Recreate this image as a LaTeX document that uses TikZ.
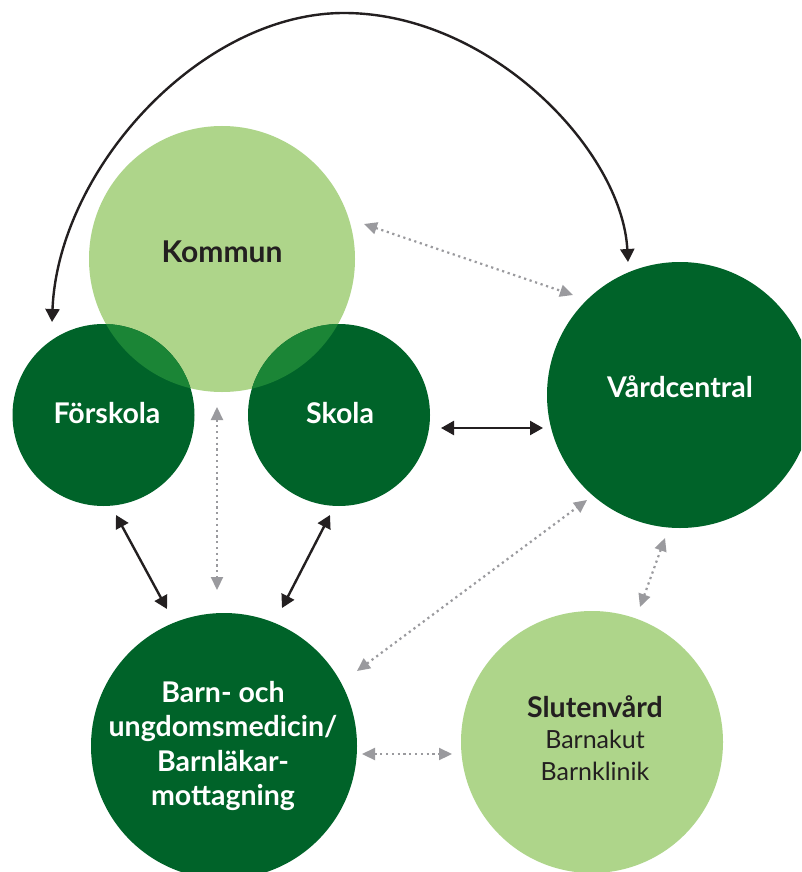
\documentclass[tikz,border=0pt]{standalone}
\usepackage{fontspec}
\setmainfont{Lato}
\usetikzlibrary{arrows.meta}
\definecolor{dkgreen}{HTML}{006329}
\definecolor{ltgreen}{HTML}{AED58A}
\definecolor{midgreen}{HTML}{1B8536}
\definecolor{arrgray}{HTML}{9A9A9E}
\definecolor{txtblack}{HTML}{231F20}
\begin{document}
\begin{tikzpicture}[x=1pt,y=-1pt,
  disc/.style={circle, inner sep=0pt, minimum size=#1},
  darkdisc/.style={disc=#1, fill=dkgreen},
  lightdisc/.style={disc=#1, fill=ltgreen},
  whitelbl/.style={font=\bfseries\fontsize{28.5}{34.5}\selectfont, text=white, align=center, inner sep=0pt},
  blacklbl/.style={font=\fontsize{25}{31.5}\selectfont, text=txtblack, align=center, inner sep=0pt},
  solidarrow/.style={draw=txtblack, line width=2.4pt, {Triangle[length=13pt,width=14pt]}-{Triangle[length=13pt,width=14pt]}},
  onearrow/.style={draw=txtblack, line width=2.4pt, -{Triangle[length=13pt,width=14pt]}},
  dotarrow/.style={draw=arrgray, line width=2.2pt, dash pattern=on 2.2pt off 3.6pt, {Triangle[length=13pt,width=12pt]}-{Triangle[length=13pt,width=12pt]}}
]
\clip (0,0) rectangle (801,872);
\fill[white] (0,0) rectangle (801,872);

% circles
\node[lightdisc=266pt] (kommun) at (222,259) {};
\node[darkdisc=182pt] (forskola) at (103.5,415) {};
\node[darkdisc=182pt] (skola) at (339,415) {};
\node[darkdisc=266pt] (vard) at (680,395) {};
\node[darkdisc=266pt] (barn) at (224,746) {};
\node[lightdisc=262pt] (sluten) at (592,742) {};

% overlaps of Kommun with Förskola and Skola
\begin{scope}
  \clip (kommun.center) circle (133pt);
  \fill[midgreen] (forskola.center) circle (91pt);
  \fill[midgreen] (skola.center) circle (91pt);
\end{scope}

% labels
\node[font=\bfseries\fontsize{30}{34}\selectfont, text=txtblack, inner sep=0pt] (kommuntxt) at (222,252) {Kommun};
\node[whitelbl] (forskolatxt) at (107,413) {Förskola};
\node[whitelbl] (skolatxt) at (340,413) {Skola};
\node[whitelbl] (vardtxt) at (680,387) {Vårdcentral};
\node[whitelbl] (barntxt) at (223,746) {Barn- och\\ungdomsmedicin/\\Barnläkar-\\mottagning};
\node[blacklbl] (slutentxt) at (595,738) {{\bfseries\fontsize{28.5}{31.5}\selectfont Slutenvård}\\Barnakut\\Barnklinik};

% connector end points
\coordinate (arcL) at (52,322);
\coordinate (arcT) at (344,13);
\coordinate (arcR) at (628,262);
\coordinate (kv1) at (364,224);
\coordinate (kv2) at (573,295);
\coordinate (sv1) at (441,428);
\coordinate (sv2) at (543,428);
\coordinate (fb1) at (116,515);
\coordinate (fb2) at (167,609);
\coordinate (sb1) at (330,515);
\coordinate (sb2) at (282,608);
\coordinate (kb1) at (217,407);
\coordinate (kb2) at (217,590);
\coordinate (bv1) at (357,671);
\coordinate (bv2) at (587,500);
\coordinate (vs1) at (665,538);
\coordinate (vs2) at (640,607);
\coordinate (bs1) at (362,754);
\coordinate (bs2) at (452,754);

% big arc between Vårdcentral and Förskola
\draw[onearrow] (arcT) .. controls (200,13) and (58,170) .. (arcL);
\draw[onearrow] (arcT) .. controls (490,13) and (622,150) .. (arcR);

% solid connectors
\draw[solidarrow] (sv1) -- (sv2);
\draw[solidarrow] (fb1) -- (fb2);
\draw[solidarrow] (sb1) -- (sb2);

% dotted connectors
\draw[dotarrow] (kv1) -- (kv2);
\draw[dotarrow] (kb1) -- (kb2);
\draw[dotarrow] (bv1) -- (bv2);
\draw[dotarrow] (vs1) -- (vs2);
\draw[dotarrow] (bs1) -- (bs2);
\end{tikzpicture}
\end{document}
